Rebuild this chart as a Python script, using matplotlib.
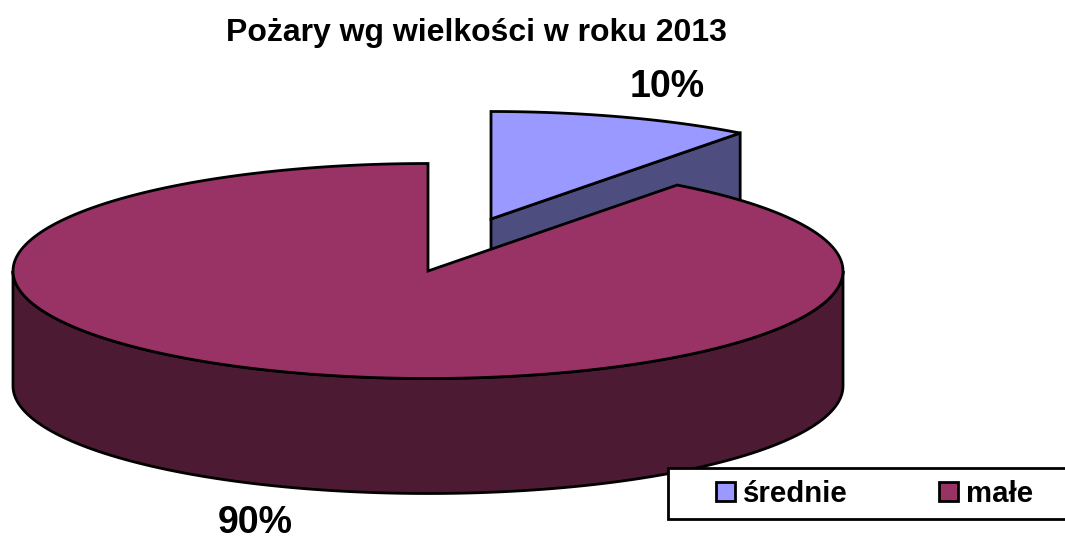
# plot.py - wykres kolowy 3D, pozary wg wielkosci

import matplotlib
matplotlib.use("Agg")
import matplotlib.pyplot as plt
import numpy as np
from matplotlib.patches import Rectangle

plt.rcParams['font.family'] = ['Liberation Sans', 'DejaVu Sans']

TITLE = "Pożary wg wielkości w roku 2013"
categories = ["średnie", "małe"]
shares = [10.25, 89.75]
labels = ["10%", "90%"]
top_colors = ["#9999FF", "#993366"]
side_colors = ["#4D4D80", "#4D1A33"]

# geometria w pikselach obrazu
RX, RY, DEPTH = 415, 107.5, 115
CENTER = (428, 271)
EXPLODE = (63, -52)
LW = 2.0


def arc(cx, cy, a0, a1, dy=0):
    # kat liczony od godziny 12, zgodnie z ruchem wskazowek
    t = np.radians(np.linspace(a0, a1, 240))
    return cx + RX * np.sin(t), cy - RY * np.cos(t) + dy


fig = plt.figure(figsize=(10.65, 5.39), dpi=100)
ax = fig.add_axes([0, 0, 1, 1])
ax.set_xlim(0, 1065)
ax.set_ylim(539, 0)
ax.axis('off')

angles = np.cumsum([0] + shares) * 3.6

# wycinek "srednie" - wysuniety, rysowany najpierw
cx, cy = CENTER[0] + EXPLODE[0], CENTER[1] + EXPLODE[1]
a0, a1 = angles[0], angles[1]
x, y = arc(cx, cy, a0, a1)
ax.fill([cx, x[-1], x[-1], cx], [cy, y[-1], y[-1] + DEPTH, cy + DEPTH],
        fc=side_colors[0], ec='black', lw=LW, joinstyle='miter')
ax.fill(np.r_[cx, x], np.r_[cy, y], fc=top_colors[0], ec='black', lw=LW, joinstyle='miter')

# wycinek "male"
cx, cy = CENTER
a0, a1 = angles[1], angles[2]
# bok - dolna polowa elipsy
x, y = arc(cx, cy, 90, 270)
ax.fill(np.r_[x, x[::-1]], np.r_[y, y[::-1] + DEPTH],
        fc=side_colors[1], ec='black', lw=LW)
x, y = arc(cx, cy, a0, a1)
ax.fill(np.r_[cx, x], np.r_[cy, y], fc=top_colors[1], ec='black', lw=LW, joinstyle='miter')

ax.text(476, 33, TITLE, ha='center', va='center', fontsize=23, fontweight='bold')
ax.text(667, 87, labels[0], ha='center', va='center', fontsize=27, fontweight='bold')
ax.text(255, 523, labels[1], ha='center', va='center', fontsize=27, fontweight='bold')

# legenda
ax.add_patch(Rectangle((668, 468), 420, 51, fc='white', ec='black', lw=LW, zorder=5))
for name, col, bx, tx in zip(categories, top_colors, [716, 939], [743, 966]):
    ax.add_patch(Rectangle((bx, 482), 19, 19, fc=col, ec='black', lw=LW, zorder=6))
    ax.text(tx, 494, name, ha='left', va='center', fontsize=21.2, fontweight='bold', zorder=6)

fig.savefig("out.png", dpi=100)
plt.close(fig)
